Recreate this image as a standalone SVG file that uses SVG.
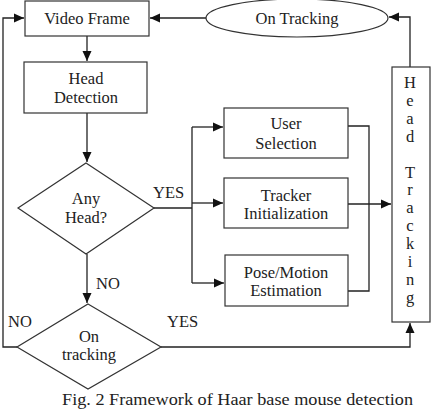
<svg xmlns="http://www.w3.org/2000/svg" width="444" height="410" viewBox="0 0 444 410" font-family="'Liberation Serif', 'Times New Roman', serif">
<style>
.box{fill:#fff;stroke:#333;stroke-width:1.2}
.ln{fill:none;stroke:#222;stroke-width:1.3}
text{font-size:16.5px;fill:#222}
.c{text-anchor:middle}
</style>
<defs>
<marker id="ah" markerUnits="userSpaceOnUse" markerWidth="12" markerHeight="10" refX="10" refY="5" orient="auto">
<path d="M0,0.5 L10,5 L0,9.5 Z" fill="#111"/>
</marker>
</defs>
<rect width="444" height="410" fill="#fff"/>
<g id="connectors">
<path class="ln" d="M206,18 H150" marker-end="url(#ah)"/>
<path class="ln" d="M87,36 V61" marker-end="url(#ah)"/>
<path class="ln" d="M87,113 V162" marker-end="url(#ah)"/>
<path class="ln" d="M154,208 H192"/>
<path class="ln" d="M192,127 V283"/>
<path class="ln" d="M192,127 H223" marker-end="url(#ah)"/>
<path class="ln" d="M192,203 H223" marker-end="url(#ah)"/>
<path class="ln" d="M192,283 H224" marker-end="url(#ah)"/>
<path class="ln" d="M348,126 H369 V291 H348"/>
<path class="ln" d="M348,204 H391" marker-end="url(#ah)"/>
<path class="ln" d="M410,67 V17 H389" marker-end="url(#ah)"/>
<path class="ln" d="M87,254 V303" marker-end="url(#ah)"/>
<path class="ln" d="M161,347 H410 V323" marker-end="url(#ah)"/>
<path class="ln" d="M17,347 H3 V18 H24" marker-end="url(#ah)"/>
</g>
<g id="video-frame">
<rect class="box" x="25" y="1" width="124" height="35"/>
<text class="c" x="87" y="24">Video Frame</text>
</g>
<g id="on-tracking-ellipse">
<ellipse class="box" cx="297" cy="18" rx="91" ry="19"/>
<text class="c" x="297" y="24">On Tracking</text>
</g>
<g id="head-detection">
<rect class="box" x="24" y="62" width="123" height="51"/>
<text class="c" x="86" y="84">Head</text>
<text class="c" x="86" y="103">Detection</text>
</g>
<g id="any-head">
<path class="box" d="M86,163 L154,208 L86,254 L18,208 Z"/>
<text class="c" x="86" y="204">Any</text>
<text class="c" x="86" y="223">Head?</text>
</g>
<g id="user-selection">
<rect class="box" x="224" y="108" width="124" height="50"/>
<text class="c" x="286" y="129">User</text>
<text class="c" x="286" y="149">Selection</text>
</g>
<g id="tracker-init">
<rect class="box" x="224" y="178" width="124" height="50"/>
<text class="c" x="286" y="201">Tracker</text>
<text class="c" x="286" y="219">Initialization</text>
</g>
<g id="pose-motion">
<rect class="box" x="225" y="255" width="123" height="51"/>
<text class="c" x="286" y="278">Pose/Motion</text>
<text class="c" x="286" y="296">Estimation</text>
</g>
<g id="head-tracking">
<rect class="box" x="392" y="67" width="38" height="255"/>
<text class="c" font-size="16"><tspan x="410" y="88">H</tspan><tspan x="410" y="105.9">e</tspan><tspan x="410" y="123.8">a</tspan><tspan x="410" y="141.7">d</tspan><tspan x="410" y="177.5">T</tspan><tspan x="410" y="195.4">r</tspan><tspan x="410" y="213.3">a</tspan><tspan x="410" y="231.2">c</tspan><tspan x="410" y="249.1">k</tspan><tspan x="410" y="267">i</tspan><tspan x="410" y="284.9">n</tspan><tspan x="410" y="302.8">g</tspan></text>
</g>
<g id="on-tracking-decision">
<path class="box" d="M88,304 L161,347 L88,389 L17,347 Z"/>
<text class="c" x="89" y="342">On</text>
<text class="c" x="89" y="360">tracking</text>
</g>
<g id="labels">
<text x="153" y="198">YES</text>
<text x="96" y="289">NO</text>
<text x="8" y="327">NO</text>
<text x="167" y="327">YES</text>
<text x="62" y="405" font-size="17" textLength="351" lengthAdjust="spacingAndGlyphs">Fig. 2 Framework of Haar base mouse detection</text>
</g>
</svg>
